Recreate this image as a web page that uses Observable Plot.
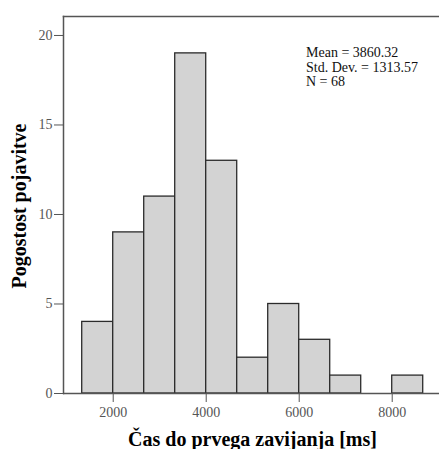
<!DOCTYPE html>
<html><head><meta charset="utf-8">
<script src="https://cdn.jsdelivr.net/npm/d3@7"></script>
<script src="https://cdn.jsdelivr.net/npm/@observablehq/plot@0.6"></script>
<style>body{margin:0;background:#fff}</style>
</head><body><div id="chart"></div>
<script>
const binStart = [1333.33, 2000, 2666.67, 3333.33, 4000, 4666.67, 5333.33, 6000, 6666.67, 7333.33, 8000];
const binEnd   = [2000, 2666.67, 3333.33, 4000, 4666.67, 5333.33, 6000, 6666.67, 7333.33, 8000, 8666.67];
const counts   = [4, 9, 11, 19, 13, 2, 5, 3, 1, 0, 1];
const xTicks = [2000, 4000, 6000, 8000];
const yTicks = [0, 5, 10, 15, 20];
const xDomain = [931, 9017];
const yDomain = [0, 21.06];
const xLabel = "Čas do prvega zavijanja [ms]";
const yLabel = "Pogostost pojavitve";
const statsLines = ["Mean = 3860.32", "Std. Dev. = 1313.57", "N = 68"];

const bins = counts.map((c, i) => ({x1: binStart[i], x2: binEnd[i], count: c})).filter(d => d.count > 0);

const chart = Plot.plot({
  width: 439, height: 449,
  marginLeft: 63, marginRight: 0, marginTop: 16, marginBottom: 56,
  style: {fontFamily: "'Liberation Serif', 'Times New Roman', serif", fontSize: "14px", background: "#fff", color: "#555"},
  x: {domain: xDomain, ticks: xTicks, tickSize: 9, tickPadding: 5, label: null, tickFormat: d => String(d)},
  y: {domain: yDomain, ticks: yTicks, tickSize: 9, tickPadding: 2, label: null},
  marks: [
    Plot.rectY(bins, {x1: "x1", x2: "x2", y: "count", fill: "#d3d3d3", stroke: "#2b2b2b", strokeWidth: 1.3}),
    Plot.frame({anchor: "left", stroke: "#555", strokeWidth: 1.5}),
    Plot.frame({anchor: "top", stroke: "#555", strokeWidth: 1.5}),
    Plot.ruleY([0], {stroke: "#555", strokeWidth: 1.5}),
    Plot.text([yLabel], {text: d => d, frameAnchor: "left", rotate: -90, dx: -38, dy: 1, textAnchor: "middle", lineAnchor: "bottom", fontWeight: "bold", fontSize: 20, fill: "#000"}),
    Plot.text([xLabel], {text: d => d, frameAnchor: "bottom", dx: 1, dy: 52, textAnchor: "middle", lineAnchor: "bottom", fontWeight: "bold", fontSize: 20, fill: "#000"}),
    Plot.text([statsLines.join("\n")], {text: d => d, frameAnchor: "top-left", dx: 242.5, dy: 30, textAnchor: "start", lineAnchor: "top", lineHeight: 1.05, fontSize: 14, fill: "#111"})
  ]
});
document.getElementById("chart").appendChild(chart);
</script>
</body></html>
